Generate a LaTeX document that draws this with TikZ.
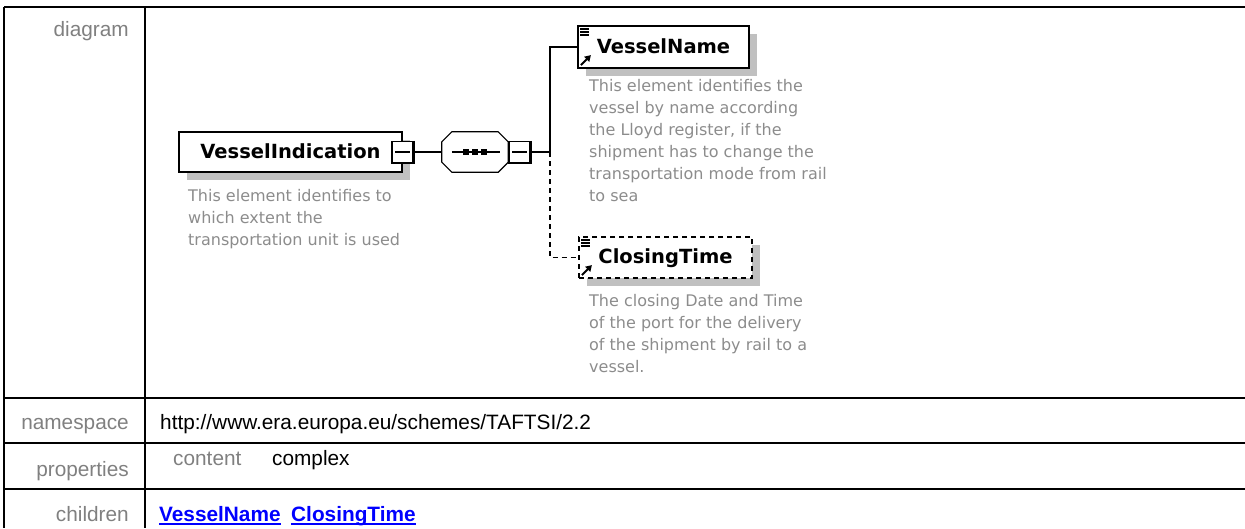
\documentclass[tikz,border=0pt]{standalone}
\usepackage{fontspec}
\setmainfont{Liberation Sans}
\newfontfamily\diafont{DejaVu Sans}
\usetikzlibrary{arrows.meta,positioning,calc,shadows}
\definecolor{labelgray}{RGB}{128,128,128}
\definecolor{descgray}{RGB}{140,140,140}
\definecolor{shadowgray}{RGB}{192,192,192}
\definecolor{linkblue}{RGB}{0,0,255}

\begin{document}
\begin{tikzpicture}[
  x=1pt, y=-1pt,
  every node/.style={inner sep=0pt},
  tableline/.style={line width=2.5pt},
  rowlabel/.style={anchor=base east, text=labelgray, font=\fontsize{20.8}{24}\selectfont},
  rowtext/.style={anchor=base west, font=\fontsize{20.8}{24}\selectfont},
  elembox/.style={draw, line width=1.2pt, fill=white, text height=15pt, text depth=3pt,
    font=\diafont\bfseries\fontsize{19.5}{22}\selectfont,
    general shadow={shadow xshift=8pt, shadow yshift=-8pt, fill=shadowgray}},
  optbox/.style={elembox, dash pattern=on 5pt off 4pt},
  minusbox/.style={draw, fill=white, line width=1.2pt, minimum size=21pt,
    path picture={\draw[line width=1.2pt] ([xshift=3pt]path picture bounding box.west) -- ([xshift=-3pt]path picture bounding box.east);}},
  desc/.style={anchor=north west, align=left, text=descgray, font=\diafont\fontsize{16}{22}\selectfont},
  connector/.style={line width=1.2pt},
  optline/.style={connector, dash pattern=on 5pt off 4pt}
]
  \useasboundingbox (0,0) rectangle (1245,528);

  % table frame
  \draw[tableline] (4,7) -- (1245,7);
  \draw[tableline] (4,398) -- (1245,398);
  \draw[tableline] (4,443) -- (1245,443);
  \draw[tableline] (4,489) -- (1245,489);
  \draw[tableline] (4,7) -- (4,528);
  \draw[tableline] (145,7) -- (145,528);

  % row labels
  \node[rowlabel] (lbldiagram) at (129,36) {diagram};
  \node[rowlabel] (lblns) at (129,429) {namespace};
  \node[rowlabel] (lblprops) at (129,476) {properties};
  \node[rowlabel] (lblchildren) at (129,521) {children};

  % row contents
  \node[rowtext] (nsurl) at (160,429) {http://www.era.europa.eu/schemes/TAFTSI/2.2};
  \node[rowtext, text=labelgray] (propkey) at (173,465) {content};
  \node[rowtext] (propval) at (272,465) {complex};
  \node[rowtext, text=linkblue, font=\bfseries\fontsize{20.8}{24}\selectfont] (lnkname) at (159,521) {VesselName};
  \node[rowtext, text=linkblue, font=\bfseries\fontsize{20.8}{24}\selectfont] (lnktime) at (291,521) {ClosingTime};
  \draw[linkblue, line width=1.5pt] ([yshift=-3pt]lnkname.base west) -- ([yshift=-3pt]lnkname.base east);
  \draw[linkblue, line width=1.5pt] ([yshift=-3pt]lnktime.base west) -- ([yshift=-3pt]lnktime.base east);

  % diagram: root element
  \node[elembox, minimum width=223pt, minimum height=40pt] (vi) at (290.5,152) {VesselIndication};
  \node[desc] (videsc) at (188,189) {This element identifies to\\which extent the\\transportation unit is used};
  \node[minusbox] (mb1) at (402.5,152) {};

  % sequence compositor
  \node[minimum width=66pt, minimum height=40pt] (seq) at (475,152) {};
  \fill[shadowgray, shift={(8,8)}] ([xshift=10pt]seq.north west) -- ([xshift=-10pt]seq.north east) -- ([yshift=-10pt]seq.north east) -- ([yshift=10pt]seq.south east) -- ([xshift=-10pt]seq.south east) -- ([xshift=10pt]seq.south west) -- ([yshift=10pt]seq.south west) -- ([yshift=-10pt]seq.north west) -- cycle;
  \draw[connector, fill=white] ([xshift=10pt]seq.north west) -- ([xshift=-10pt]seq.north east) -- ([yshift=-10pt]seq.north east) -- ([yshift=10pt]seq.south east) -- ([xshift=-10pt]seq.south east) -- ([xshift=10pt]seq.south west) -- ([yshift=10pt]seq.south west) -- ([yshift=-10pt]seq.north west) -- cycle;
  \draw[connector] ([xshift=10pt]seq.west) -- ([xshift=-8pt]seq.east);
  \foreach \dx in {-9,0,9}
    \fill ([xshift=\dx pt]seq.center) ++(-2.8,-2.8) rectangle ++(5.6,5.6);
  \node[minusbox] (mb2) at (519.5,152) {};
  \foreach \m in {mb1,mb2}
    \draw[line width=2.4pt] (\m.north east) -- (\m.south east) -- (\m.south west);

  % children
  \coordinate (fork) at (550,152);
  \node[elembox, minimum width=171pt, minimum height=42pt] (vn) at (663.5,47) {VesselName};
  \node[desc] (vndesc) at (589,79) {This element identifies the\\vessel by name according\\the Lloyd register, if the\\shipment has to change the\\transportation mode from rail\\to sea};
  \node[optbox, minimum width=173pt, minimum height=41pt] (ct) at (665.5,257.5) {ClosingTime};
  \node[desc] (ctdesc) at (589,294) {The closing Date and Time\\of the port for the delivery\\of the shipment by rail to a\\vessel.};

  % icons in child boxes
  \foreach \b in {vn,ct} {
    \foreach \dy in {3.5,6.5,9.5}
      \draw[line width=1.2pt] ([shift={(3,\dy)}]\b.north west) -- ++(9,0);
    \draw[line width=2pt, -{Triangle[length=6pt,width=7pt]}] ([shift={(3.5,-3.5)}]\b.south west) -- ++(10,-10);
  }

  % connectors
  \draw[connector] (mb1.east) -- (seq.west);
  \draw[connector] (mb2.east) -- (fork);
  \draw[connector] (fork) |- (vn.west);
  \draw[optline] (fork) |- (ct.west);
\end{tikzpicture}
\end{document}
